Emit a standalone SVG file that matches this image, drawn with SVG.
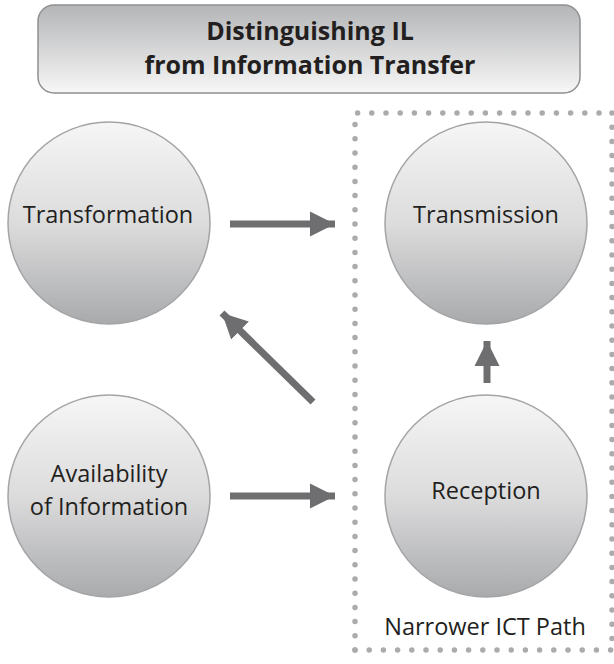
<svg xmlns="http://www.w3.org/2000/svg" width="614" height="664" viewBox="0 0 614 664">
<defs>
<linearGradient id="gCircle" x1="0" y1="0" x2="0" y2="1">
<stop offset="0" stop-color="#f6f6f6"/>
<stop offset="0.5" stop-color="#dcdcdd"/>
<stop offset="1" stop-color="#a9aaac"/>
</linearGradient>
<linearGradient id="gTitle" x1="0" y1="0" x2="0" y2="1">
<stop offset="0" stop-color="#b4b5b7"/>
<stop offset="1" stop-color="#f7f7f7"/>
</linearGradient>
<marker id="ah" viewBox="0 0 10 10" refX="10" refY="5" markerWidth="3.6" markerHeight="3.6" orient="auto" markerUnits="strokeWidth">
<path d="M0,0 L10,5 L0,10 Z" fill="#6e6e70"/>
</marker>
<style>
.node circle{fill:url(#gCircle);stroke:#a3a4a6;stroke-width:1.5}
.lbl{font-family:"Open Sans","Noto Sans","Liberation Sans",sans-serif;font-size:23.5px;fill:#231f20;text-anchor:middle}
.ttl{font-family:"Open Sans","Noto Sans","Liberation Sans",sans-serif;font-size:25px;font-weight:bold;fill:#231f20;text-anchor:middle}
.arr{stroke:#6e6e70;stroke-width:7;fill:none;marker-end:url(#ah)}
.dots{fill:none;stroke:#ababad;stroke-width:5.5;stroke-linecap:round;stroke-dasharray:0 14.2}
</style>
</defs>
<rect width="614" height="664" fill="#ffffff"/>
<g id="title">
<rect x="38" y="5" width="542" height="88" rx="16" fill="url(#gTitle)" stroke="#8f9092" stroke-width="1.5"/>
<text class="ttl" x="310" y="39.5">Distinguishing IL</text>
<text class="ttl" x="310" y="73.5">from Information Transfer</text>
</g>
<g id="ict-path">
<path class="dots" d="M355,650 L355,113 L612,113"/>
<path class="dots" d="M355,650 L612,650"/>
<path class="dots" d="M612,113 L612,650"/>
<text class="lbl" x="485" y="635">Narrower ICT Path</text>
</g>
<g id="transformation" class="node">
<circle cx="109" cy="223" r="101"/>
<text class="lbl" x="108" y="223">Transformation</text>
</g>
<g id="transmission" class="node">
<circle cx="486" cy="223" r="101"/>
<text class="lbl" x="486" y="223">Transmission</text>
</g>
<g id="availability" class="node">
<circle cx="109" cy="496" r="101"/>
<text class="lbl" x="109" y="482">Availability</text>
<text class="lbl" x="109" y="515">of Information</text>
</g>
<g id="reception" class="node">
<circle cx="486" cy="496" r="101"/>
<text class="lbl" x="486" y="499">Reception</text>
</g>
<g id="connectors">
<line class="arr" x1="230" y1="224" x2="335" y2="224"/>
<line class="arr" x1="230" y1="496" x2="335" y2="496"/>
<line class="arr" x1="313" y1="402" x2="222" y2="313"/>
<line class="arr" x1="487" y1="383" x2="487" y2="341"/>
</g>
</svg>
